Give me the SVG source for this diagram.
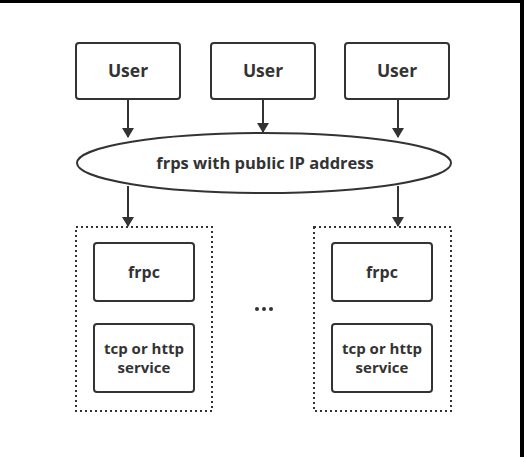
<svg xmlns="http://www.w3.org/2000/svg" width="524" height="457" viewBox="0 0 524 457">
<defs>
<marker id="ah" markerWidth="10" markerHeight="12" refX="9" refY="6" orient="auto" markerUnits="userSpaceOnUse"><path d="M0,0 L10,6 L0,12 z" fill="#333"/></marker>
<style>
.box{fill:#fff;stroke:#333;stroke-width:2}
.dot{fill:none;stroke:#333;stroke-width:2;stroke-dasharray:2 3}
.t{font-family:"Open Sans","Noto Sans",sans-serif;font-weight:bold;fill:#333;text-anchor:middle}
.c{stroke:#333;stroke-width:2;fill:none;marker-end:url(#ah)}
</style>
</defs>
<rect width="524" height="457" fill="#fff"/>
<rect x="0" y="0" width="524" height="3" fill="#000"/>
<rect x="520" y="0" width="4" height="457" fill="#000"/>
<g id="connectors">
<line class="c" x1="128" y1="100" x2="128" y2="137"/>
<line class="c" x1="263" y1="100" x2="263" y2="132"/>
<line class="c" x1="398" y1="100" x2="398" y2="137"/>
<line class="c" x1="128" y1="186" x2="128" y2="226"/>
<line class="c" x1="398" y1="186" x2="398" y2="226"/>
</g>
<g id="user1"><rect class="box" x="76" y="43" width="104" height="56" rx="3"/><text class="t" x="128" y="77" font-size="17.5">User</text></g>
<g id="user2"><rect class="box" x="211" y="43" width="104" height="56" rx="3"/><text class="t" x="263" y="77" font-size="17.5">User</text></g>
<g id="user3"><rect class="box" x="345" y="43" width="104" height="56" rx="3"/><text class="t" x="397" y="77" font-size="17.5">User</text></g>
<g id="frps"><ellipse class="box" cx="264" cy="163" rx="187" ry="30"/><text class="t" x="265" y="169" font-size="16.5">frps with public IP address</text></g>
<g id="group1"><rect class="dot" x="76" y="227" width="136" height="184"/></g>
<g id="group2"><rect class="dot" x="314" y="227" width="137" height="184"/></g>
<g id="frpc1"><rect class="box" x="94" y="243" width="100" height="58" rx="3"/><text class="t" x="144" y="278" font-size="16">frpc</text></g>
<g id="svc1"><rect class="box" x="94" y="324" width="100" height="68" rx="3"/><text class="t" x="144" y="354" font-size="15">tcp or http</text><text class="t" x="144" y="373" font-size="15">service</text></g>
<g id="frpc2"><rect class="box" x="332" y="243" width="100" height="58" rx="3"/><text class="t" x="382" y="278" font-size="16">frpc</text></g>
<g id="svc2"><rect class="box" x="332" y="324" width="100" height="68" rx="3"/><text class="t" x="382" y="354" font-size="15">tcp or http</text><text class="t" x="382" y="373" font-size="15">service</text></g>
<g id="ellipsis"><circle cx="257" cy="309" r="2" fill="#333"/><circle cx="264" cy="309" r="2" fill="#333"/><circle cx="271" cy="309" r="2" fill="#333"/></g>
</svg>
